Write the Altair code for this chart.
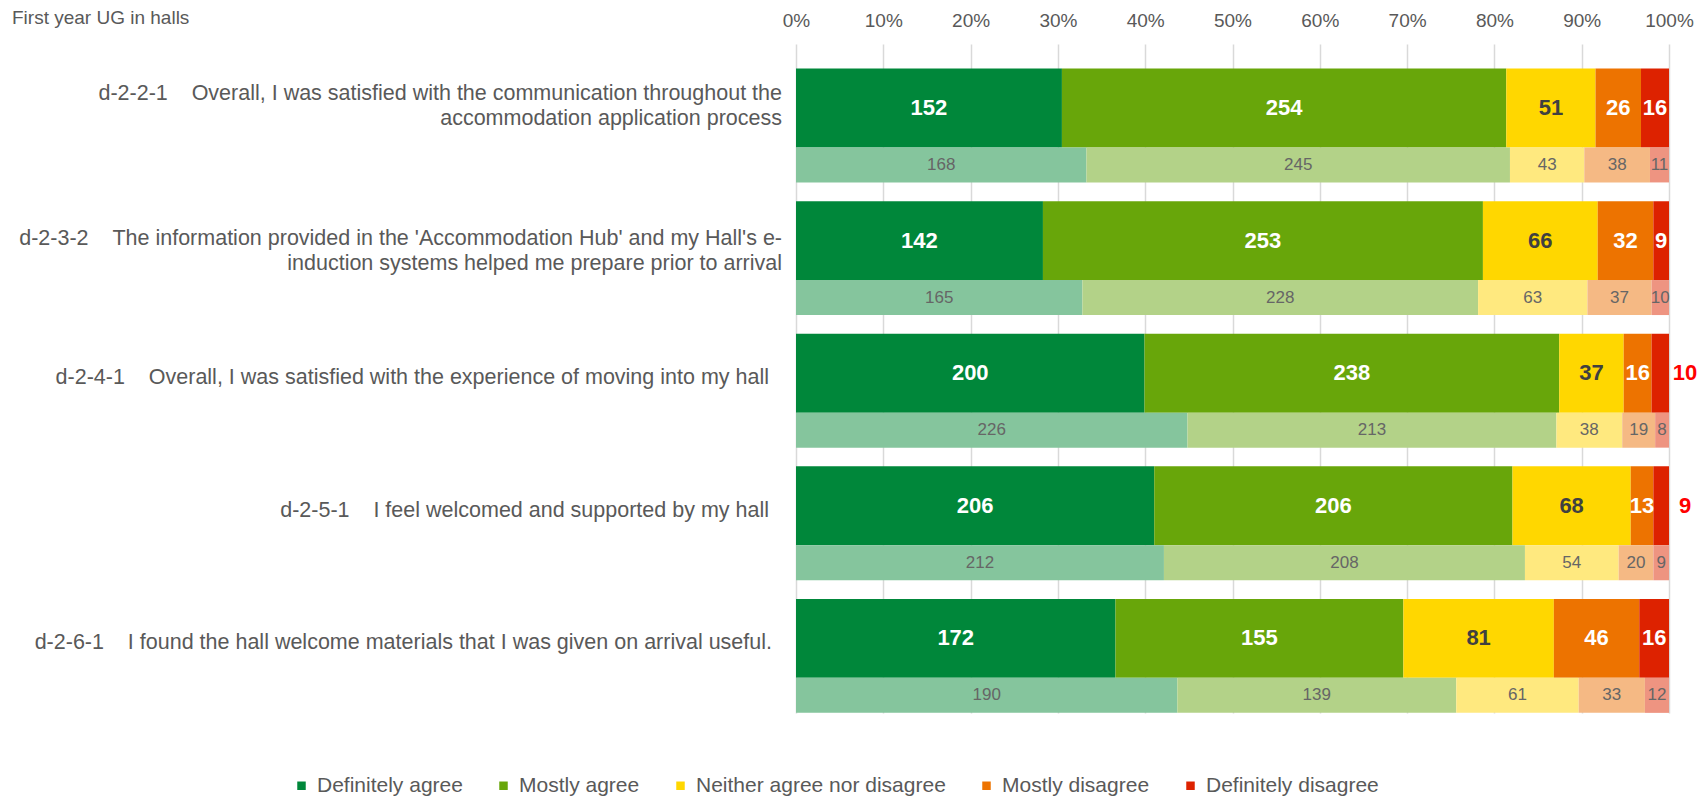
import altair as alt
import pandas as pd

FONT = "Liberation Sans"

categories = ["Definitely agree", "Mostly agree", "Neither agree nor disagree",
              "Mostly disagree", "Definitely disagree"]
main_colors = ["#00873A", "#68A60A", "#FFD700", "#ED7300", "#DD2200"]
comp_colors = ["#85C59D", "#B3D288", "#FFE97F", "#F5B984", "#EE9481"]
main_text_colors = ["#FFFFFF", "#FFFFFF", "#404040", "#FFFFFF", "#FFFFFF"]

SP = "\u00a0"
question_labels = [
    "d-2-2-1" + SP * 4 + "Overall, I was satisfied with the communication throughout the\naccommodation application process",
    "d-2-3-2" + SP * 4 + "The information provided in the 'Accommodation Hub' and my Hall's e-\ninduction systems helped me prepare prior to arrival",
    "d-2-4-1" + SP * 4 + "Overall, I was satisfied with the experience of moving into my hall",
    "d-2-5-1" + SP * 4 + "I feel welcomed and supported by my hall",
    "d-2-6-1" + SP * 4 + "I found the hall welcome materials that I was given on arrival useful.",
]

main_q1 = [152, 254, 51, 26, 16]
main_q2 = [142, 253, 66, 32, 9]
main_q3 = [200, 238, 37, 16, 10]
main_q4 = [206, 206, 68, 13, 9]
main_q5 = [172, 155, 81, 46, 16]

comp_q1 = [168, 245, 43, 38, 11]
comp_q2 = [165, 228, 63, 37, 10]
comp_q3 = [226, 213, 38, 19, 8]
comp_q4 = [212, 208, 54, 20, 9]
comp_q5 = [190, 139, 61, 33, 12]

main_counts = [main_q1, main_q2, main_q3, main_q4, main_q5]
comp_counts = [comp_q1, comp_q2, comp_q3, comp_q4, comp_q5]

# (question index, category index) whose label sits outside the bar in red
outside_labels = [(2, 4), (3, 4)]

title_text = "First year UG in halls"

# vertical layout in "group" units (one question per unit)
TOP_GAP = 0.185
MAIN_H = 0.595
COMP_H = 0.264
Y_MAX = 5.045

rows = []
for qi in range(len(question_labels)):
    main_top = qi + TOP_GAP
    for kind, counts, colors in (("main", main_counts[qi], main_colors),
                                 ("comp", comp_counts[qi], comp_colors)):
        if kind == "main":
            y0, y1 = main_top, main_top + MAIN_H
        else:
            y0, y1 = main_top + MAIN_H, main_top + MAIN_H + COMP_H
        total = sum(counts)
        cum = 0
        for ci, c in enumerate(counts):
            x0 = cum / total
            cum += c
            x1 = cum / total
            rows.append(dict(q=qi, kind=kind, cat=categories[ci], count=c,
                             x0=x0, x1=x1, xm=(x0 + x1) / 2,
                             y0=y0, y1=y1, ym=(y0 + y1) / 2,
                             fill=colors[ci],
                             tcolor=main_text_colors[ci] if kind == "main" else "#666666",
                             outside=(qi, ci) in outside_labels))
df = pd.DataFrame(rows)
df_main = df[df.kind == "main"]
df_comp = df[df.kind == "comp"]
df_main_in = df_main[~df_main.outside]
df_main_out = df_main[df_main.outside]

df_q = pd.DataFrame({
    "q": list(range(len(question_labels))),
    "label": question_labels,
    "yc": [i + TOP_GAP + MAIN_H / 2 for i in range(len(question_labels))],
})
df_title = pd.DataFrame({"t": [title_text]})

xscale = alt.Scale(domain=[0, 1], nice=False, zero=False)
yscale = alt.Scale(domain=[0, Y_MAX], reverse=True, nice=False, zero=False)
xaxis = alt.Axis(orient="top", format=".0%", values=[i / 10 for i in range(11)],
                 grid=True, gridColor="#D9D9D9", gridWidth=1.5, domain=False,
                 ticks=False, labelPadding=14, labelFontSize=19,
                 labelColor="#595959", labelFont=FONT, labelFlush=False,
                 labelOverlap=False, title=None)

bars_main = alt.Chart(df_main).mark_rect().encode(
    x=alt.X("x0:Q", scale=xscale, axis=xaxis),
    x2="x1:Q",
    y=alt.Y("y0:Q", scale=yscale, axis=None),
    y2="y1:Q",
    color=alt.Color("cat:N", scale=alt.Scale(domain=categories, range=main_colors),
                    legend=alt.Legend(title=None, orient="none", legendX=-505, legendY=731,
                                      direction="horizontal", columns=5,
                                      symbolType="square", symbolSize=72,
                                      symbolStrokeWidth=0, labelFontSize=21,
                                      labelColor="#595959", labelFont=FONT,
                                      labelOffset=5, columnPadding=30, padding=0,
                                      labelLimit=0)),
)

bars_comp = alt.Chart(df_comp).mark_rect().encode(
    x=alt.X("x0:Q", scale=xscale, axis=xaxis),
    x2="x1:Q",
    y=alt.Y("y0:Q", scale=yscale, axis=None),
    y2="y1:Q",
    color=alt.Color("fill:N", scale=None),
)

text_main = alt.Chart(df_main_in).mark_text(
    font=FONT, fontSize=22, fontWeight="bold", baseline="middle", align="center"
).encode(
    x=alt.X("xm:Q", scale=xscale, axis=xaxis),
    y=alt.Y("ym:Q", scale=yscale, axis=None),
    text="count:Q",
    color=alt.Color("tcolor:N", scale=None),
)

text_out = alt.Chart(df_main_out).mark_text(
    font=FONT, fontSize=22, fontWeight="bold", baseline="middle", align="center",
    dx=16, color="#FF0000"
).encode(
    x=alt.X("x1:Q", scale=xscale, axis=xaxis),
    y=alt.Y("ym:Q", scale=yscale, axis=None),
    text="count:Q",
)

text_comp = alt.Chart(df_comp).mark_text(
    font=FONT, fontSize=17, baseline="middle", align="center"
).encode(
    x=alt.X("xm:Q", scale=xscale, axis=xaxis),
    y=alt.Y("ym:Q", scale=yscale, axis=None),
    text="count:Q",
    color=alt.Color("tcolor:N", scale=None),
)

# question labels: label offsets (pixels) as placed in the reference
label_offsets = {0: (-14, -14), 1: (-14, -2), 2: (-27, 5), 3: (-27, 5), 4: (-24, 5)}
qlayers = []
for qi, (xo, yo) in label_offsets.items():
    qlayers.append(
        alt.Chart(df_q[df_q.q == qi]).mark_text(
            font=FONT, fontSize=21.5, align="right", baseline="middle", lineBreak="\n",
            lineHeight=25, color="#595959", dy=yo
        ).encode(
            x=alt.value(xo),
            y=alt.Y("yc:Q", scale=yscale, axis=None),
            text="label:N",
        )
    )

title = alt.Chart(df_title).mark_text(
    font=FONT, fontSize=19, align="left", baseline="alphabetic", color="#595959"
).encode(
    x=alt.value(-784),
    y=alt.value(-20),
    text="t:N",
)

chart = alt.layer(
    bars_main, bars_comp, text_main, text_out, text_comp, *qlayers, title
).resolve_scale(
    color="independent"
).properties(
    width=873, height=669,
    padding={"left": 788, "top": 36, "right": 30, "bottom": 92},
    autosize=alt.AutoSizeParams(type="none"),
).configure_view(stroke=None)

chart.save("out.html", embed_options={"renderer": "svg", "actions": False})
